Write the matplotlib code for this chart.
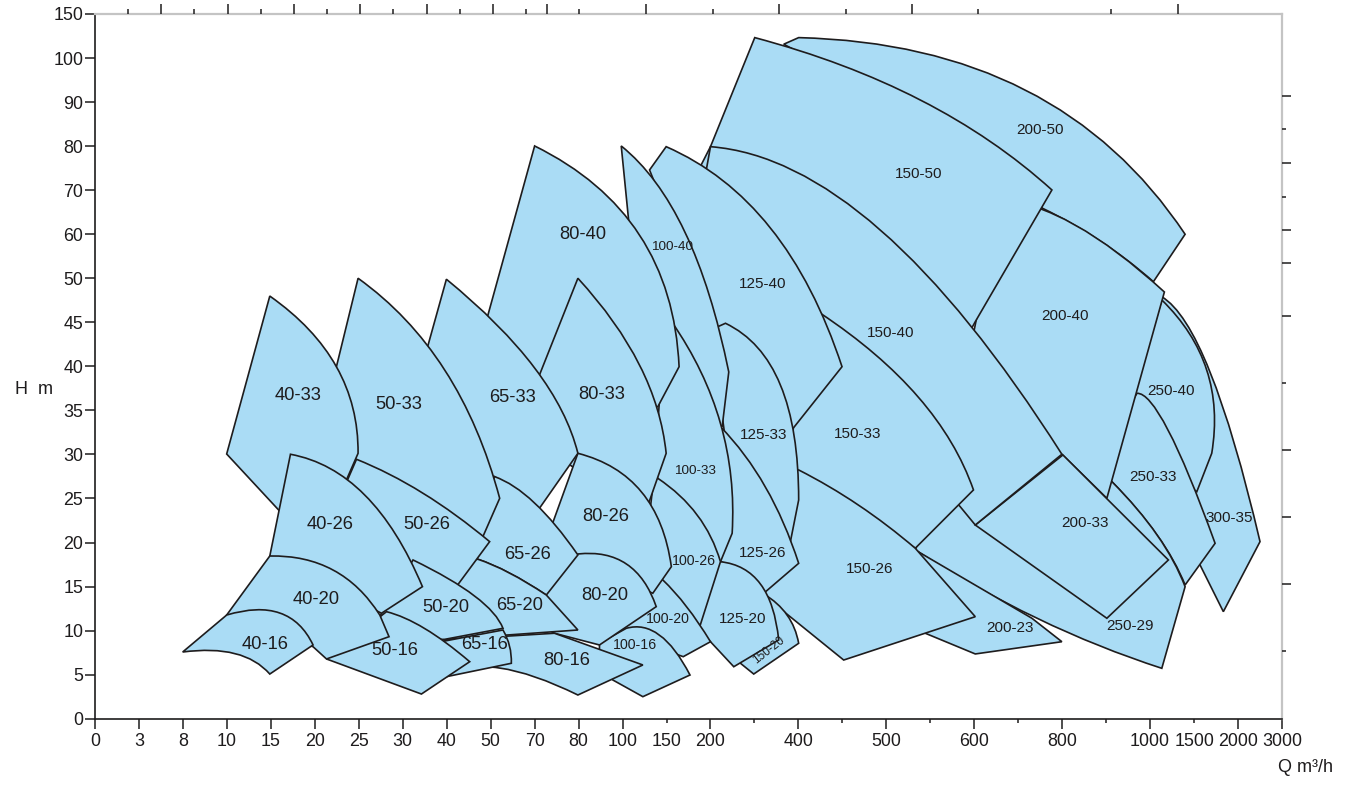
import numpy as np
import matplotlib
matplotlib.use("Agg")
import matplotlib.pyplot as plt
from matplotlib.path import Path
from matplotlib.patches import PathPatch

plt.rcParams['font.family'] = ['Liberation Sans', 'DejaVu Sans']

# axis steps (evenly spaced on the chart)
Q_STEPS = [0, 3, 8, 10, 15, 20, 25, 30, 40, 50, 70, 80, 100, 150, 200, 300, 400,
           450, 500, 550, 600, 700, 800, 900, 1000, 1500, 2000, 3000]
Q_LABELED = [0, 3, 8, 10, 15, 20, 25, 30, 40, 50, 70, 80, 100, 150, 200, 400, 500,
             600, 800, 1000, 1500, 2000, 3000]
Q_MINOR = [300, 450, 550, 700, 900]
H_STEPS = [0, 5, 10, 15, 20, 25, 30, 35, 40, 45, 50, 60, 70, 80, 90, 100, 150]

# pump ranges (Q m3/h, H m): every edge starts at a corner; a second point
# is the middle of a curved edge
s300_35 = [[(1133, 47.9), (1682, 39.36)], [(2500, 20.1)], [(1833, 12.15)], [(1568, 17.45)],
           [(1227, 22.56)]]
s250_40 = [[(1133, 47.54), (1644, 39.59)], [(1701, 30.13)], [(1531, 25.77)], [(932, 31.64)]]
s250_33 = [[(970, 36.94), (1204.5, 32.78)], [(1739, 19.91)], [(1398, 15.18), (1079.5, 20.86)],
           [(913, 26.91)], [(875, 28.8)]]
s250_29 = [[(584, 33.91)], [(841, 28.24)], [(913, 26.91), (1079.5, 20.86)], [(1398, 14.99)],
           [(1133, 5.72), (742.5, 11.4)], [(533, 19.15)]]
s200_50 = [[(366.6, 115.7)], [(400.3, 123.2), (715.9, 92.76)], [(1398, 59.99)],
           [(1037.5, 49.61), (886.4, 58.47)], [(755.2, 65.89)], [(659.1, 76.86)]]
s200_40 = [[(659.1, 67.78), (829.6, 62.1)], [(1162.4, 48.44)], [(901.6, 25.02)],
           [(799.3, 30.02)], [(584, 36.18)]]
s200_33 = [[(602.3, 21.99)], [(801.6, 29.94)], [(1208, 18.02)], [(901.6, 11.4)]]
s200_23 = [[(493.2, 21.42)], [(532.9, 19.15)], [(731.2, 11.4)], [(799.3, 8.74)],
           [(602.3, 7.35)], [(544.3, 9.7)], [(493.2, 13.48)]]
s150_50 = [[(300.7, 123.2), (538.6, 90.49)], [(776.6, 70.05)], [(602.3, 45.07)],
           [(589.7, 43.0)], [(188.4, 75.34)], [(200, 79.88)]]
s150_40 = [[(200, 79.88), (493.2, 60.97)], [(799.3, 30.02)], [(602.3, 21.99)],
           [(584, 24.07)], [(459.1, 38.45)], [(194.2, 73.46)]]
s150_33 = [[(402.3, 47.54)], [(425, 46.03), (536.3, 36.52)], [(599.1, 25.97)],
           [(532.9, 19.35)], [(470.4, 23.69)], [(381.8, 27.1)]]
s150_26 = [[(381.8, 28.24)], [(400.3, 28.24), (468.2, 24.26)], [(532.9, 19.35)],
           [(602.3, 11.58)], [(451.5, 6.66)], [(325, 13.85)], [(313.7, 18.02)]]
s150_20 = [[(290.9, 14.61)], [(321.2, 14.16), (374.3, 11.77)], [(400.3, 8.56)],
           [(298.4, 5.07)], [(268.2, 6.29)], [(256.8, 8.94)]]
s125_40 = [[(149.6, 79.88), (336.4, 61.42)], [(449.6, 39.96)], [(381.8, 32.58)],
           [(188.4, 44.13)], [(153.5, 63.24)], [(130.7, 74.59)]]
s125_33 = [[(200, 44.13)], [(234.1, 44.89), (359.1, 37.89)], [(400.3, 24.83)],
           [(381.8, 20.1)], [(234.1, 31.64)]]
s125_26 = [[(200, 33.91)], [(222.7, 33.15), (325, 26.31)], [(400.3, 17.64)],
           [(321.2, 14.24)], [(204.5, 18.59)]]
s125_20 = [[(194.2, 18.24)], [(222.7, 17.82), (313.7, 15.29)], [(355.2, 8.94)],
           [(253, 5.9)], [(200, 8.74)], [(176.7, 11.21)]]
s100_40 = [[(99.4, 80.04), (170.9, 60.51)], [(241.6, 39.36)], [(226.6, 33.15)],
           [(176.7, 36.18)], [(119.3, 44.13)]]
s100_33 = [[(155.8, 45.07), (222.7, 33.54)], [(249.3, 21.05)], [(222.7, 17.82)],
           [(130.7, 18.02)], [(136.4, 28.24)], [(142, 36.18)], [(147.7, 43.0)]]
s100_26 = [[(136.4, 28.0)], [(140.1, 27.29), (184.9, 23.13)], [(222.7, 17.82)],
           [(188.4, 10.64)], [(119.3, 13.48)]]
s100_20 = [[(119.3, 16.88)], [(145.8, 15.75), (172.9, 12.72)], [(200, 8.74)],
           [(169, 7.04)], [(94.1, 10.07)]]
s100_16 = [[(89.5, 8.56)], [(104.2, 10.26), (142, 9.5)], [(176.7, 4.96)],
           [(123.1, 2.5)], [(95.6, 4.39)], [(89.5, 5.53)]]
s80_40 = [[(70, 80.04), (119.3, 59.83)], [(164.3, 39.96)], [(140.1, 35.42)],
          [(75.7, 32.78)], [(47.5, 42.43)]]
s80_33 = [[(79.84, 50.0), (119.3, 40.16)], [(149.6, 30.13)], [(125, 23.13)],
          [(62.3, 32.78)], [(71.1, 39.02)]]
s80_26 = [[(79.84, 30.13), (121.6, 25.74)], [(155.5, 17.26)], [(134.4, 14.24)], [(72.3, 19.72)]]
s80_20 = [[(79.84, 18.7), (104.5, 17.56)], [(138.3, 12.72)], [(89.5, 8.37)], [(74.5, 9.7)],
          [(71.1, 10.64)], [(71.1, 14.04)]]
s80_16 = [[(39.55, 8.94)], [(74.5, 9.7)], [(123.1, 6.1)], [(79.84, 2.69), (54.1, 5.76)],
          [(40, 4.85)]]
s65_33 = [[(39.93, 49.89), (70, 39.82)], [(79.84, 30.13)], [(71.1, 23.89)], [(51.8, 27.48)],
          [(29.2, 29.37)], [(35.75, 42.39)]]
s65_26 = [[(51.8, 27.48), (70, 24.49)], [(79.84, 18.59)], [(72.66, 14.04), (58.6, 16.54)],
          [(47.1, 18.1)], [(42.95, 19.15)]]
s65_20 = [[(42.95, 18.02)], [(47.1, 18.1), (58.6, 16.54)], [(72.66, 14.04)],
          [(79.84, 10.07)], [(39.93, 9.01)], [(38.4, 11.21)]]
s65_16 = [[(38.4, 8.71)], [(55.6, 10.07), (58.6, 8.25)], [(59.4, 6.29)],
          [(39.93, 4.77)], [(38.4, 5.53)]]
s50_33 = [[(24.92, 50.0), (39.55, 39.59)], [(54.1, 25.02)], [(48.4, 20.86)],
          [(47.05, 19.38)], [(20.0, 29.94)]]
s50_26 = [[(24.74, 29.45), (34.55, 25.62)], [(49.77, 20.1)], [(42.2, 14.99)], [(20.75, 20.29)]]
s50_20 = [[(32.34, 18.02), (46.36, 13.93)], [(55.6, 10.26)], [(39.55, 9.01)],
          [(33.86, 8.94)], [(26.82, 10.64)]]
s50_16 = [[(21.33, 6.78)], [(28.15, 12.15), (35, 10.24)], [(45.23, 6.47)], [(34.25, 2.8)]]
s40_33 = [[(9.99, 30.05)], [(14.88, 47.98), (22.46, 39.96)], [(24.92, 30.13)], [(20.11, 19.15)]]
s40_26 = [[(17.23, 30.02), (25.68, 25.4)], [(34.48, 14.99)], [(27.58, 11.97)], [(14.88, 18.47)]]
s40_20 = [[(9.99, 11.77)], [(14.88, 18.47), (22.08, 16.88)], [(27.39, 11.77)],
          [(28.44, 9.31)], [(21.33, 6.78)], [(19.8, 8.17)]]
s40_16 = [[(7.97, 7.57)], [(9.99, 11.77), (16.02, 12.0)], [(19.8, 8.37)],
          [(14.88, 5.07), (10.91, 7.4)]]

# back to front
ranges = [s300_35, s250_40, s250_33, s250_29, s200_50, s200_40, s200_33, s200_23,
          s150_50, s150_40, s150_33, s150_26, s150_20, s125_40, s125_33, s125_26, s125_20,
          s100_40, s100_33, s100_26, s100_20, s100_16, s80_40, s80_33, s80_26, s80_20, s80_16,
          s65_33, s65_26, s65_20, s65_16, s50_33, s50_26, s50_20, s50_16,
          s40_33, s40_26, s40_20, s40_16]

names = ['40-16', '40-20', '40-26', '40-33', '50-16', '50-20', '50-26', '50-33',
         '65-16', '65-20', '65-26', '65-33', '80-16', '80-20', '80-26', '80-33', '80-40',
         '100-16', '100-20', '100-26', '100-33', '100-40', '125-20', '125-26', '125-33', '125-40',
         '150-20', '150-26', '150-33', '150-40', '150-50', '200-23', '200-33', '200-40', '200-50',
         '250-29', '250-33', '250-40', '300-35']
name_q = [14.32, 20.1, 21.7, 18.07, 29.1, 39.77, 35.45, 29.55,
          48.6, 63.2, 66.8, 60.0, 77.2, 91.8, 92.3, 90.45, 81.8,
          113.6, 151.2, 181.4, 182.6, 155.8, 272.7, 318.2, 320.5, 318.2,
          331.8, 481, 467, 504.5, 536.3, 680.7, 852.3, 806.8, 750,
          954.6, 1034, 1238.6, 1897.6]
name_h = [8.37, 13.51, 22.1, 36.64, 7.69, 12.57, 21.99, 35.62,
          8.37, 12.8, 18.59, 36.41, 6.59, 14.04, 23.01, 36.75, 59.83,
          8.37, 11.32, 17.9, 28.12, 57.1, 11.32, 18.81, 32.2, 49.35,
          7.8, 17.0, 32.32, 43.79, 73.68, 10.35, 22.22, 45.72, 83.67,
          10.52, 27.44, 37.2, 22.79]


def piecewise(steps):
    v = np.asarray(steps, float)
    k = np.arange(len(v), dtype=float)

    def fwd(x):
        x = np.asarray(x, float)
        y = np.interp(x, v, k)
        y = np.where(x < v[0], (x - v[0]) / (v[1] - v[0]), y)
        y = np.where(x > v[-1], k[-1] + (x - v[-1]) / (v[-1] - v[-2]), y)
        return y

    def inv(y):
        y = np.asarray(y, float)
        x = np.interp(y, k, v)
        x = np.where(y < 0, v[0] + y * (v[1] - v[0]), x)
        x = np.where(y > k[-1], v[-1] + (y - k[-1]) * (v[-1] - v[-2]), x)
        return x
    return fwd, inv


fx, ix = piecewise(Q_STEPS)
fy, iy = piecewise(H_STEPS)


def to_pos(p):
    return np.array([float(fx(p[0])), float(fy(p[1]))])


def outline(edges):
    # straight edges, or a quadratic curve through the middle point,
    # laid out on the chart's own step scale
    verts, codes = [], []
    n = len(edges)
    for i, e in enumerate(edges):
        a = to_pos(e[0])
        b = to_pos(edges[(i + 1) % n][0])
        if i == 0:
            verts.append(a)
            codes.append(Path.MOVETO)
        if len(e) == 1:
            verts.append(b)
            codes.append(Path.LINETO)
        else:
            m = to_pos(e[1])
            verts += [2 * m - (a + b) / 2, b]
            codes += [Path.CURVE3, Path.CURVE3]
    verts.append(verts[0])
    codes.append(Path.CLOSEPOLY)
    V = np.array(verts)
    return Path(np.column_stack([ix(V[:, 0]), iy(V[:, 1])]), codes)


fig = plt.figure(figsize=(13.49, 7.98), dpi=100)
ax = fig.add_axes([95 / 1349, 1 - 718.7 / 798, 1187 / 1349, 704.7 / 798])
ax.set_xscale('function', functions=(fx, ix))
ax.set_yscale('function', functions=(fy, iy))
ax.set_xlim(0, 3000)
ax.set_ylim(0, 150)

ink = '#1e1c1d'
for edges in ranges:
    ax.add_patch(PathPatch(outline(edges), facecolor='#aadcf5', edgecolor=ink,
                           lw=1.2, joinstyle='miter', zorder=2))

text_size = {'40': 13.2, '50': 13.2, '65': 13.2, '80': 13.2, '100': 10.2}
for nm, q, h in zip(names, name_q, name_h):
    size = text_size.get(nm.split('-')[0], 11)
    rot = 0
    if nm in ('100-40', '100-33'):
        size = 9.7
    if nm == '150-20':
        size, rot = 8.5, 38
    ax.text(q, h, nm, ha='center', va='center', fontsize=size, color=ink,
            rotation=rot, zorder=3)

ax.set_xticks(Q_LABELED)
ax.set_xticklabels([str(v) for v in Q_LABELED])
ax.set_xticks(Q_MINOR, minor=True)
ax.set_yticks(H_STEPS)
ax.set_yticklabels([str(v) for v in H_STEPS])
ax.tick_params(axis='both', which='major', direction='out', length=7, width=1.1,
               color=ink, labelcolor=ink, labelsize=12.9)
ax.tick_params(axis='x', which='major', pad=3)
ax.tick_params(axis='y', which='major', pad=1.5)
ax.tick_params(axis='x', which='minor', direction='out', length=3, width=1.1, color=ink)
for t in ax.xaxis.get_major_ticks():
    if t.get_loc() in (150, 1500):
        t.tick1line.set_markersize(3)

for side in ('left', 'bottom'):
    ax.spines[side].set_color(ink)
    ax.spines[side].set_linewidth(1.2)
for side in ('top', 'right'):
    ax.spines[side].set_color('#c4c4c4')
    ax.spines[side].set_linewidth(1.6)

# unlabeled ticks on the top and right frame
axt = ax.twiny()
axt.set_xlim(0, 27)
axt.set_xticks([1.50, 3.03, 4.53, 6.03, 7.55, 9.05, 10.28, 12.53, 15.56, 18.58, 24.64])
axt.set_xticks([0.75, 2.25, 3.78, 5.28, 6.78, 8.30, 9.80, 11.01, 14.06, 17.08, 20.09, 23.11],
               minor=True)
axt.tick_params(axis='x', which='major', top=True, labeltop=False, direction='out',
                length=7, width=1.1, color=ink)
axt.tick_params(axis='x', which='minor', top=True, direction='out', length=3.3,
                width=1.1, color=ink)
axr = ax.twinx()
axr.set_ylim(0, 16)
axr.set_yticks([14.14, 12.62, 11.10, 10.35, 9.14, 6.10, 4.58, 3.06])
axr.set_yticks([13.39, 11.85, 7.62, 1.54], minor=True)
axr.tick_params(axis='y', which='major', right=True, labelright=False, direction='out',
                length=6.5, width=1.1, color=ink)
axr.tick_params(axis='y', which='minor', right=True, direction='out', length=3,
                width=1.1, color=ink)
for a in (axt, axr):
    for s in a.spines.values():
        s.set_visible(False)

fig.text(15 / 1349, 1 - 389 / 798, 'H  m', ha='left', va='center', fontsize=13, color=ink)
fig.text(1278 / 1349, 1 - 768 / 798, 'Q m³/h', ha='left', va='center', fontsize=13,
         color=ink)

fig.savefig('out.png', dpi=100)
